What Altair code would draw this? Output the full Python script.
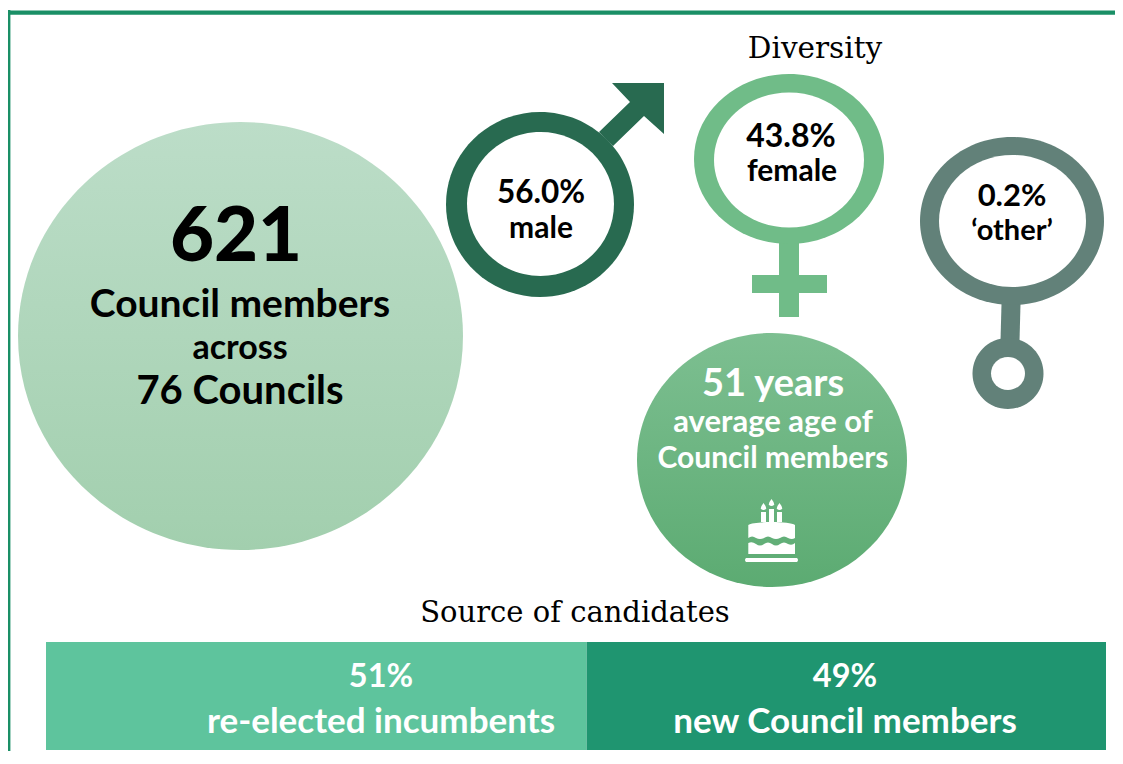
import altair as alt
import pandas as pd

# --- values and labels -------------------------------------------------------
SOURCE_NAMES = ["re-elected incumbents", "new Council members"]
SOURCE_SHARE = [51, 49]
SOURCE_COLORS = ["#5EC49D", "#1F9570"]
HEADLINE = ["621", "Council members", "across", "76 Councils"]
DIVERSITY = ["56.0%", "male", "43.8%", "female", "0.2%", "\u2018other\u2019"]
AGE = ["51 years", "average age of", "Council members"]
TITLES = ["Diversity", "Source of candidates"]

W, H = 1107, 743
PX = alt.Scale(domain=[8, 8 + W], range=[0, W])
PY = alt.Scale(domain=[8, 8 + H], range=[0, H], padding=0)


def ellipse(rx, ry):
    return f"M{-rx},0A{rx},{ry} 0 1 1 {rx},0A{rx},{ry} 0 1 1 {-rx},0Z"


def shape(path, x, y, fill):
    df = pd.DataFrame({"x": [x], "y": [y], "p": [path]})
    return (
        alt.Chart(df)
        .mark_point(filled=True, fill=fill, opacity=1, strokeWidth=0, size=4)
        .encode(
            x=alt.X("x:Q", scale=PX, axis=None),
            y=alt.Y("y:Q", scale=PY, axis=None),
            shape=alt.Shape("p:N", scale=None, legend=None),
        )
    )


def grad(top, bottom):
    return alt.Gradient(
        gradient="linear",
        x1=0, x2=0, y1=0, y2=1,
        stops=[alt.GradientStop(color=top, offset=0), alt.GradientStop(color=bottom, offset=1)],
    )


def band(x1, x2, y1, y2, color):
    df = pd.DataFrame({"x": [x1], "x2": [x2], "y": [y1], "y2": [y2]})
    return (
        alt.Chart(df)
        .mark_rect(color=color, opacity=1)
        .encode(
            x=alt.X("x:Q", scale=PX, axis=None),
            x2="x2:Q",
            y=alt.Y("y:Q", scale=PY, axis=None),
            y2="y2:Q",
        )
    )


def label(text, x, y, size, font="Lato", weight=700, color="#000000"):
    df = pd.DataFrame({"x": [x], "y": [y], "t": [text]})
    return (
        alt.Chart(df)
        .mark_text(font=font, fontSize=size, fontWeight=weight, color=color,
                   align="center", baseline="middle")
        .encode(
            x=alt.X("x:Q", scale=PX, axis=None),
            y=alt.Y("y:Q", scale=PY, axis=None),
            text="t:N",
        )
    )


MALE, FEMALE, OTHER = "#286A50", "#70BC88", "#628179"
WHITE = "#FFFFFF"

arrow = "M72,-121.5H124V-70.5L104,-88.5L73,-58.5L59,-72.5L90,-102.5Z"


def flame(c, t):
    return (f"M{c},{t}Q{c+3.5},{t+4.5} {c+2.5},{t+6}Q{c},{t+8} {c-2.5},{t+6}"
            f"Q{c-3.5},{t+4.5} {c},{t}Z")


cake = (
    "M-26,23H25Q27,25 25,27H-26Q-28,25 -26,23Z"
    "M-23.7,8Q-20,6 -16,9Q-12,12 -8,9Q-4,6 0,9Q4,12 8,9Q12,6 16,9Q20,11 23,8V19H-23.7Z"
    "M-23.7,-10C-18,-14 18,-14 23,-10V3Q20,5 16,3Q12,0 8,3Q4,5 0,3Q-4,0 -8,3Q-12,5 -16,3"
    "Q-20,0 -23.7,3Z"
    "M-11,-23H-6V-13H-11ZM-3,-26H2V-13H-3ZM5,-23H10V-13H5Z"
    + flame(-8.5, -32) + flame(-0.5, -36) + flame(7.5, -32)
)

frame = [
    band(8, 10.4, 10, 751, "#1A8F66"),
    band(8, 1115, 10.5, 14.7, "#1A8F66"),
]

shapes = [
    shape(ellipse(222.5, 214), 240.5, 336, grad("#BCDDC8", "#A2CFAE")),
    # male
    shape(arrow, 540, 204.5, MALE),
    shape(ellipse(94, 92.5), 540, 204.5, MALE),
    shape(ellipse(73.5, 72), 540.5, 204, WHITE),
    # female
    band(779, 799, 235, 317, FEMALE),
    band(752, 827, 275, 293, FEMALE),
    shape(ellipse(95, 85), 789, 159, FEMALE),
    shape(ellipse(75, 67.5), 789, 160, WHITE),
    # other
    shape("M-10,-18H9L8,19H-11Z", 1011.5, 322, OTHER),
    shape(ellipse(92, 84), 1012, 221, OTHER),
    shape(ellipse(73.5, 66), 1012.5, 221, WHITE),
    shape(ellipse(35.5, 35.5), 1008, 373.5, OTHER),
    shape(ellipse(17, 16.5), 1008, 373.5, WHITE),
    # age
    shape(ellipse(135, 127), 772, 460, grad("#7DBF91", "#5CAB72")),
    shape(cake, 772, 535, WHITE),
]

texts = [
    label(HEADLINE[0], 236, 238, 76, weight=900),
    label(HEADLINE[1], 240, 305, 39),
    label(HEADLINE[2], 240, 349, 34),
    label(HEADLINE[3], 240, 392, 40),
    label(DIVERSITY[0], 541, 194, 31.5),
    label(DIVERSITY[1], 541, 229, 30),
    label(DIVERSITY[2], 791, 137, 32),
    label(DIVERSITY[3], 792, 172, 30),
    label(DIVERSITY[4], 1012, 197, 31),
    label(DIVERSITY[5], 1012, 231, 29),
    label(AGE[0], 773, 385, 38, color=WHITE),
    label(AGE[1], 773, 423, 31, color=WHITE),
    label(AGE[2], 773, 459, 30, color=WHITE),
    label(TITLES[0], 815, 49, 29.5, font="DejaVu Serif", weight=400),
    label(TITLES[1], 575, 613, 29, font="DejaVu Serif", weight=400),
    label(f"{SOURCE_SHARE[0]}%", 381, 677, 32.5, color=WHITE),
    label(SOURCE_NAMES[0], 381, 722, 35, color=WHITE),
    label(f"{SOURCE_SHARE[1]}%", 845, 677, 32.5, color=WHITE),
    label(SOURCE_NAMES[1], 845, 722, 35, color=WHITE),
]

source = pd.DataFrame({
    "name": SOURCE_NAMES,
    "share": SOURCE_SHARE,
    "color": SOURCE_COLORS,
    "order": [0, 1],
    "y": [642, 642],
    "y2": [750, 750],
})
bars = (
    alt.Chart(source)
    .mark_bar(opacity=1, orient="horizontal")
    .encode(
        x=alt.X("share:Q", stack="zero",
                scale=alt.Scale(domain=[0, 100], range=[38, 1098]), axis=None),
        y=alt.Y("y:Q", scale=PY, axis=None),
        y2="y2:Q",
        color=alt.Color("color:N", scale=None, legend=None),
        order=alt.Order("order:Q"),
    )
)

geo = alt.layer(*frame, *shapes, *texts)
chart = (
    alt.layer(bars, geo)
    .resolve_scale(x="independent")
    .properties(
        width=W, height=H, padding=0, background="#FFFFFF",
        autosize=alt.AutoSizeParams(type="none", contains="padding"),
    )
    .configure_view(stroke="transparent")
)

chart.save("out.html", embed_options={"renderer": "svg", "actions": False})
